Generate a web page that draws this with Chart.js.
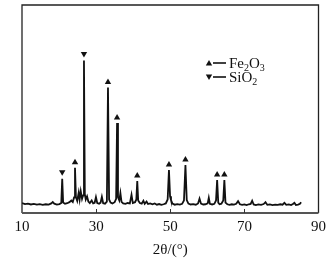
<!DOCTYPE html>
<html>
<head>
<meta charset="utf-8">
<script src="https://cdn.jsdelivr.net/npm/chart.js@4.4.1/dist/chart.umd.min.js"></script>
<style>
  html, body { margin: 0; padding: 0; background: #fff; }
  #wrap { width: 331px; height: 260px; position: relative; }
</style>
</head>
<body>
<div id="wrap"><canvas id="c"></canvas></div>
<script>
// XRD pattern (intensity in arbitrary units, 0-100)
const twoTheta = [
  10.0, 10.8, 11.6, 12.4, 13.2, 14.0, 14.8, 15.6, 16.4, 17.2, 17.9, 18.3, 18.7, 19.4, 20.1, 20.6,
  20.85, 21.1, 21.6, 22.2, 22.8, 23.3, 23.7, 24.05, 24.3, 24.55, 24.9, 25.3, 25.55, 25.85, 26.2, 26.5,
  26.72, 26.95, 27.2, 27.55, 27.9, 28.3, 28.8, 29.2, 29.6, 29.95, 30.3, 30.8, 31.2, 31.55, 31.9, 32.4,
  32.9, 33.2, 33.5, 33.9, 34.4, 35.0, 35.4, 35.65, 35.9, 36.25, 36.55, 36.85, 37.3, 37.9, 38.5, 39.1,
  39.55, 39.9, 40.5, 40.85, 41.1, 41.35, 41.8, 42.3, 42.75, 43.1, 43.6, 44.0, 44.6, 45.2, 45.8, 46.4,
  47.0, 47.6, 48.2, 48.8, 49.3, 49.65, 49.95, 50.2, 50.6, 51.2, 51.9, 52.6, 53.2, 53.7, 54.1, 54.45,
  54.9, 55.5, 56.2, 56.9, 57.5, 57.9, 58.3, 58.9, 59.5, 60.1, 60.4, 60.7, 61.3, 61.9, 62.35, 62.65,
  62.95, 63.3, 63.8, 64.3, 64.6, 64.9, 65.4, 66.0, 66.6, 67.2, 67.8, 68.3, 68.8, 69.4, 70.0, 70.6,
  71.2, 71.7, 72.1, 72.5, 73.1, 73.8, 74.5, 75.2, 75.7, 76.2, 76.9, 77.6, 78.3, 79.0, 79.7, 80.3,
  80.8, 81.3, 82.0, 82.6, 83.1, 83.5, 83.9, 84.5, 85.0, 85.3
]
const intensity = [
  4.8, 4.3, 4.5, 4.1, 4.4, 4.0, 4.3, 3.9, 4.2, 4.0, 4.6, 5.3, 4.5, 4.0, 4.3, 4.8,
  16.5, 5.0, 4.4, 4.7, 5.2, 6.0, 5.3, 7.5, 21.8, 7.6, 5.8, 9.8, 6.5, 10.5, 6.8, 8.5,
  73.3, 9.0, 6.5, 8.0, 5.5, 4.8, 6.0, 4.6, 4.9, 7.6, 4.8, 4.5, 5.0, 7.8, 4.7, 4.5,
  5.5, 60.3, 6.5, 5.0, 4.6, 5.2, 6.8, 43.3, 7.5, 6.0, 9.6, 5.4, 4.6, 4.4, 4.8, 4.6,
  8.8, 4.8, 5.2, 6.5, 15.4, 6.0, 4.8, 4.5, 5.9, 4.4, 5.5, 4.3, 4.6, 4.2, 4.6, 4.0,
  4.3, 3.9, 4.2, 4.6, 6.5, 20.7, 8.0, 6.2, 4.5, 4.0, 4.3, 4.0, 4.4, 6.0, 23.1, 6.2,
  4.5, 4.1, 4.3, 4.0, 4.6, 6.9, 4.5, 4.1, 4.2, 4.6, 7.3, 4.4, 4.1, 4.4, 6.0, 15.9,
  5.0, 4.2, 4.5, 6.0, 15.9, 5.0, 4.2, 3.9, 4.2, 4.0, 4.4, 5.7, 4.2, 3.9, 4.1, 3.8,
  4.2, 4.4, 5.9, 4.1, 3.8, 4.1, 3.9, 4.3, 5.2, 3.9, 4.1, 3.8, 4.0, 3.9, 4.2, 4.0,
  4.9, 3.9, 4.1, 3.8, 4.3, 4.9, 3.8, 4.0, 4.4, 5.2
]
// peak markers (angles taken from the pattern above)
const fe2o3Peaks = [24.3, 33.2, 35.65, 41.1, 49.65, 54.1, 62.65, 64.6]
const sio2Peaks = [20.85, 26.72]
const xTicks = [10, 30, 50, 70, 90]

const ink = '#111'
const serif = '"Liberation Serif", "Times New Roman", serif'

function triangle(ctx, x, y, up) {
  ctx.beginPath()
  if (up) {
    ctx.moveTo(x, y - 3); ctx.lineTo(x + 3.2, y + 2.5); ctx.lineTo(x - 3.2, y + 2.5)
  } else {
    ctx.moveTo(x, y + 3); ctx.lineTo(x + 3.2, y - 2.5); ctx.lineTo(x - 3.2, y - 2.5)
  }
  ctx.closePath()
  ctx.fill()
}

function chemText(ctx, parts, x, y) {
  // parts: [text, isSub]
  parts.forEach(([t, sub]) => {
    ctx.font = (sub ? '10px ' : '15px ') + serif
    ctx.fillText(t, x, sub ? y + 4 : y)
    x += ctx.measureText(t).width
  })
}

const decor = {
  id: 'decor',
  afterDatasetsDraw(chart) {
    const { ctx, chartArea: a, scales: { x, y } } = chart
    ctx.save()
    ctx.fillStyle = ink
    // markers
    fe2o3Peaks.forEach(p => {
      const v = intensity[twoTheta.indexOf(p)]
      triangle(ctx, x.getPixelForValue(p), y.getPixelForValue(v) - 6, true)
    })
    sio2Peaks.forEach(p => {
      const v = intensity[twoTheta.indexOf(p)]
      triangle(ctx, x.getPixelForValue(p), y.getPixelForValue(v) - 6, false)
    })
    // frame
    ctx.strokeStyle = '#222'
    ctx.lineWidth = 1.3
    ctx.beginPath()
    ctx.moveTo(a.left, a.bottom); ctx.lineTo(a.left, a.top); ctx.lineTo(a.right, a.top); ctx.lineTo(a.right, a.bottom)
    ctx.stroke()
    ctx.strokeStyle = '#555'
    ctx.lineWidth = 2
    ctx.beginPath()
    ctx.moveTo(a.left, a.bottom); ctx.lineTo(a.right, a.bottom)
    ctx.stroke()
    // inward ticks
    ctx.lineWidth = 1
    ctx.strokeStyle = '#333'
    xTicks.slice(1, -1).forEach(t => {
      const px = Math.round(x.getPixelForValue(t)) + 0.5
      ctx.beginPath(); ctx.moveTo(px, a.bottom); ctx.lineTo(px, a.bottom - 4); ctx.stroke()
    })
    // legend
    ctx.lineWidth = 1.6
    ctx.strokeStyle = ink
    const rows = [
      { y: 63, up: true, parts: [['Fe', false], ['2', true], ['O', false], ['3', true]] },
      { y: 77, up: false, parts: [['Si', false], ['O', false], ['2', true]] }
    ]
    ctx.textBaseline = 'middle'
    rows.forEach(r => {
      triangle(ctx, 209, r.y, r.up)
      ctx.beginPath(); ctx.moveTo(213, r.y); ctx.lineTo(226, r.y); ctx.stroke()
      chemText(ctx, r.parts, 229, r.y + 1)
    })
    ctx.restore()
  }
}

new Chart(document.getElementById('c'), {
  type: 'scatter',
  data: {
    datasets: [{
      data: twoTheta.map((t, i) => ({ x: t, y: intensity[i] })),
      showLine: true,
      borderColor: ink,
      borderWidth: 1.8,
      pointRadius: 0,
      tension: 0
    }]
  },
  options: {
    responsive: true,
    maintainAspectRatio: false,
    animation: false,
    layout: { padding: { left: 22, right: 10, top: 5, bottom: 1 } },
    plugins: { legend: { display: false }, tooltip: { enabled: false } },
    scales: {
      x: {
        type: 'linear', min: 10, max: 90,
        grid: { display: false, drawTicks: false, tickLength: 0 },
        border: { display: false },
        ticks: {
          stepSize: 20, padding: 5, color: ink, maxRotation: 0,
          font: { family: serif, size: 15 }
        },
        title: {
          display: true, text: '2θ/(°)', color: ink,
          font: { family: serif, size: 15 }, padding: { top: 0, bottom: 0 }
        }
      },
      y: { display: false, min: 0, max: 100 }
    }
  },
  plugins: [decor]
})
</script>
</body>
</html>
